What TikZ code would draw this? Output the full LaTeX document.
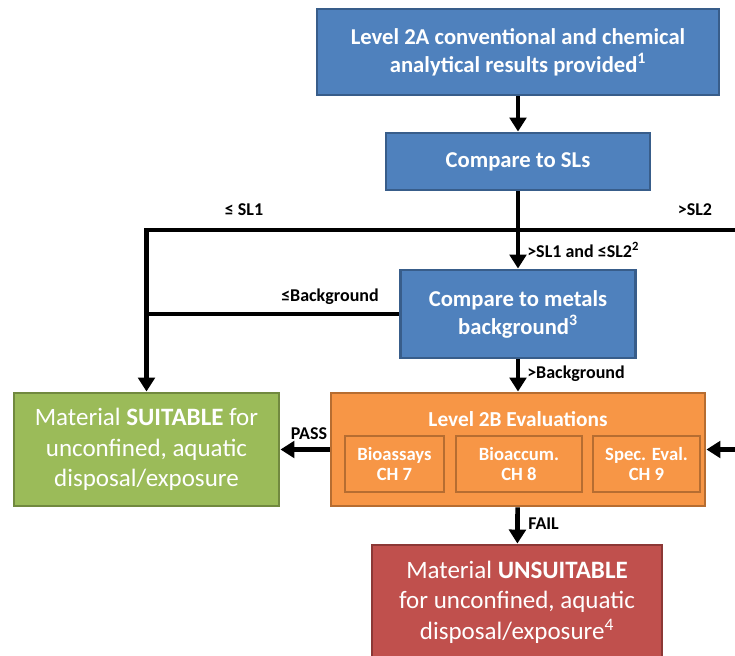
\documentclass[tikz,border=0pt]{standalone}
\usepackage{fontspec}
\setmainfont{Carlito}
\usetikzlibrary{arrows.meta, positioning}

\definecolor{bluefill}{HTML}{4F81BD}
\definecolor{blueline}{HTML}{385D8A}
\definecolor{greenfill}{HTML}{9BBB59}
\definecolor{greenline}{HTML}{71893F}
\definecolor{orangefill}{HTML}{F79646}
\definecolor{orangeline}{HTML}{B66D31}
\definecolor{redfill}{HTML}{C0504D}
\definecolor{redline}{HTML}{8C3836}

\begin{document}
\begin{tikzpicture}[x=0.75pt, y=-0.75pt,
  blockbox/.style={draw=#1line, fill=#1fill, line width=2.2pt, text=white, align=center, inner sep=0pt},
  arrowline/.style={line width=3.5pt, -{Triangle[width=12.5pt, length=10.5pt]}},
  plainline/.style={line width=3.5pt},
  edgelabel/.style={font=\fontsize{13.5}{16}\selectfont\bfseries, inner sep=0pt}]

  \useasboundingbox (0,0) rectangle (735,656);

  % Blue steps
  \node[blockbox=blue, minimum width=301.5pt, minimum height=64.5pt, font=\fontsize{17}{21}\selectfont\bfseries]
    (level2a) at (518,52) {Level 2A conventional and chemical\\analytical results provided\textsuperscript{1}};
  \node[blockbox=blue, minimum width=198pt, minimum height=42.75pt, font=\fontsize{17}{21}\selectfont\bfseries]
    (compsl) at (518,161.5) {Compare to SLs};
  \node[blockbox=blue, minimum width=176.25pt, minimum height=66pt, font=\fontsize{17}{21}\selectfont\bfseries]
    (compmetal) at (518,314) {Compare to metals\\background\textsuperscript{3}};

  % Outcomes
  \node[blockbox=green, minimum width=198.75pt, minimum height=84.75pt, font=\fontsize{18.75}{23}\selectfont]
    (suitable) at (146.5,449.5) {Material \textbf{SUITABLE} for\\unconfined, aquatic\\disposal/exposure};
  \node[blockbox=red, minimum width=217.5pt, minimum height=85.5pt, font=\fontsize{18.75}{23}\selectfont]
    (unsuitable) at (517,602) {Material \textbf{UNSUITABLE}\\for unconfined, aquatic\\disposal/exposure\textsuperscript{4}};

  % Level 2B
  \node[blockbox=orange, minimum width=280.5pt, minimum height=84.75pt] (level2b) at (518,449.5) {};
  \node[text=white, font=\fontsize{16}{19}\selectfont\bfseries, inner sep=0pt] (level2btitle) at (518,419) {Level 2B Evaluations};
  \node[blockbox=orange, minimum width=74.25pt, minimum height=42pt, font=\fontsize{14}{15.5}\selectfont\bfseries]
    (bioassay) at (394.5,464) {Bioassays\\CH 7};
  \node[blockbox=orange, minimum width=94.5pt, minimum height=42pt, font=\fontsize{14}{15.5}\selectfont\bfseries]
    (bioaccum) at (519,464) {Bioaccum.\\CH 8};
  \node[blockbox=orange, minimum width=80.25pt, minimum height=42pt, font=\fontsize{14}{15.5}\selectfont\bfseries]
    (speceval) at (646.5,464) {Spec. Eval.\\CH 9};

  % Junctions
  \coordinate (split) at (518,230);
  \coordinate (offright) at (745,230);
  \coordinate (fromright) at (745,449.5);

  % Connectors
  \draw[arrowline] (level2a) -- (compsl);
  \draw[arrowline] (compsl) -- (compmetal);
  \draw[plainline] (split) -- (offright);
  \draw[arrowline] (split) -| (suitable);
  \draw[plainline] (compmetal.west) -- (compmetal.west -| suitable);
  \draw[arrowline] (compmetal) -- (level2b);
  \draw[arrowline] (level2b) -- (suitable);
  \draw[arrowline] (fromright) -- (level2b);
  \draw[arrowline] (level2b) -- (unsuitable);

  % Labels
  \node[edgelabel] (lesl1) at (244,210) {≤ SL1};
  \node[edgelabel] (gtsl2) at (695,210) {>SL2};
  \node[edgelabel, anchor=west] (between) at (527,250) {>SL1 and ≤SL2\textsuperscript{2}};
  \node[edgelabel] (lebg) at (330,297) {≤Background};
  \node[edgelabel, anchor=west] (gtbg) at (527,374) {>Background};
  \node[edgelabel] (pass) at (309,434) {PASS};
  \node[edgelabel, anchor=west] (fail) at (528,524) {FAIL};
\end{tikzpicture}
\end{document}
